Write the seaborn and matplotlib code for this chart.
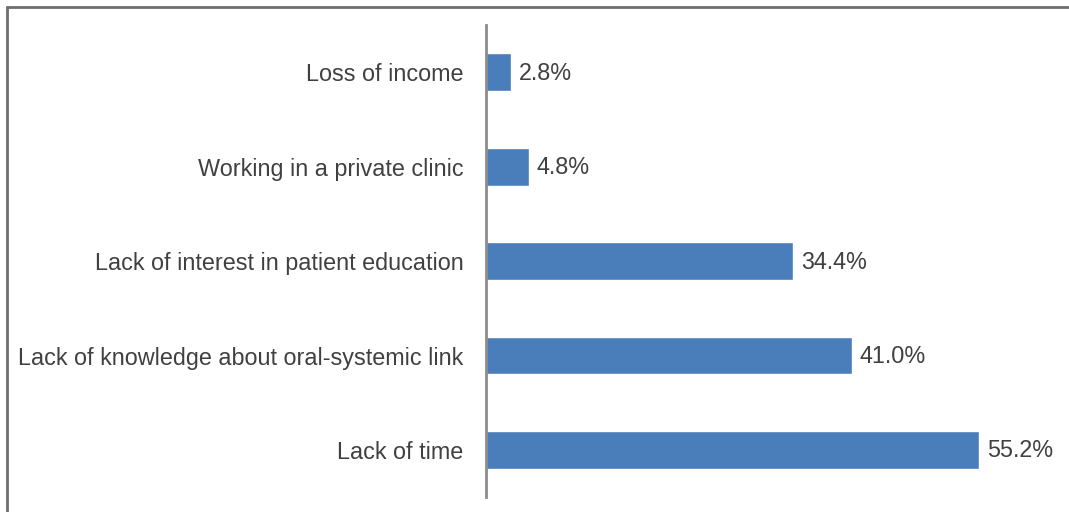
import numpy as np
import pandas as pd
import matplotlib
matplotlib.use("Agg")
import matplotlib.pyplot as plt
import seaborn as sns
from matplotlib.lines import Line2D

# data
reasons = ['Loss of income',
           'Working in a private clinic',
           'Lack of interest in patient education',
           'Lack of knowledge about oral-systemic link',
           'Lack of time']
percent = [2.8, 4.8, 34.4, 41.0, 55.2]

df = pd.DataFrame({'reason': reasons, 'percent': percent})

sns.set_style('white')
plt.rcParams['font.family'] = ['Liberation Sans', 'DejaVu Sans']

fig = plt.figure(figsize=(10.69, 5.12), dpi=100)
ax = fig.add_axes([0.4546, 0.029, 0.956 - 0.4546, 0.951 - 0.029])

sns.barplot(data=df, x='percent', y='reason', order=reasons, orient='h',
            color='#4a7ebb', saturation=1, width=0.4, ax=ax)

for i, v in enumerate(percent):
    ax.text(v + 0.85, i + 0.01, '%.1f%%' % v, va='center', ha='left',
            fontsize=16.8, color='#404040')

ax.set_xlim(0, 60)
ax.set_ylim(4.5, -0.5)
ax.set_xlabel('')
ax.set_ylabel('')
ax.set_xticks([])
ax.tick_params(axis='y', length=0, pad=16, labelsize=16.8, labelcolor='#404040')
for s in ['top', 'right', 'bottom']:
    ax.spines[s].set_visible(False)
ax.spines['left'].set_color('#8c8c8c')
ax.spines['left'].set_linewidth(2)

# outer frame (left and top edges visible)
fig.add_artist(Line2D([7 / 1069, 7 / 1069], [0, 1 - 7 / 512], color='#6e6e6e', lw=2))
fig.add_artist(Line2D([7 / 1069, 1], [1 - 7 / 512, 1 - 7 / 512], color='#6e6e6e', lw=2))

fig.savefig('out.png', dpi=100)
